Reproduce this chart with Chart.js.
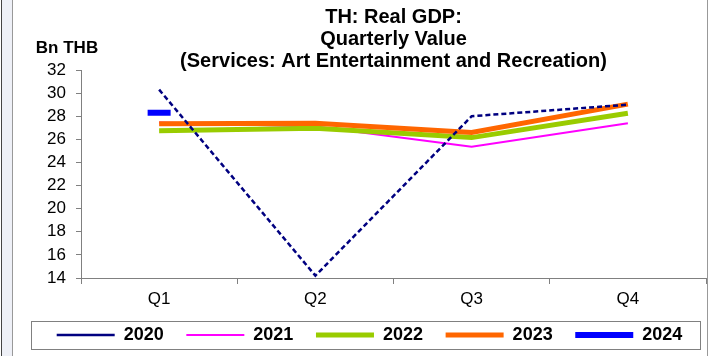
<!DOCTYPE html>
<html>
<head>
<meta charset="utf-8">
<script src="https://cdn.jsdelivr.net/npm/chart.js@4"></script>
<style>
  html, body { margin: 0; padding: 0; background: #fff; }
  #wrap { position: relative; width: 712px; height: 356px; overflow: hidden; }
  #edge1 { position: absolute; left: 1px; top: 0; width: 1px; height: 356px; background: #444; }
  #strip { position: absolute; left: 2px; top: 0; width: 10px; height: 356px; background: #eef0f7; }
  #edge2 { position: absolute; left: 12px; top: 0; width: 1px; height: 356px; background: #999; }
  #edge3 { position: absolute; left: 707px; top: 0; width: 1px; height: 356px; background: #999; }
  canvas { position: absolute; left: 0; top: 0; }
</style>
</head>
<body>
<div id="wrap">
  <div id="edge1"></div><div id="strip"></div><div id="edge2"></div><div id="edge3"></div>
  <canvas id="gdp_servicios" width="712" height="356"></canvas>
</div>
<script>
/**********************************************
 *
 * TH Real GDP - Art Entertainment and Recreation
 *
 * ****************************************/

    var trimestres = ['Q1', 'Q2', 'Q3', 'Q4'];
    var v2020 = [30.3, 14.2, 28.0, 29.0];
    var v2021 = [27.45, 27.1, 25.35, 27.4];
    var v2022 = [26.75, 26.95, 26.15, 28.25];
    var v2023 = [27.35, 27.4, 26.6, 29.05];
    var v2024 = [28.3, null, null, null];
    var titulo = ['TH: Real GDP:', 'Quarterly Value', '(Services: Art Entertainment and Recreation)'];
    var unidad = 'Bn THB';

    var fuente = "'Liberation Sans', Arial, sans-serif";

    // texto de unidad y recuadro de la leyenda
    var extras = {
        id: 'extras',
        afterDraw: function(chart) {
            var c = chart.ctx;
            c.save();
            c.fillStyle = '#000';
            c.font = 'bold 17px ' + fuente;
            c.textAlign = 'center';
            c.textBaseline = 'middle';
            c.fillText(unidad, 67, 48);

            var cajas = chart.legend.legendHitBoxes;
            if (cajas && cajas.length) {
                var izq = cajas[0].left - 26;
                var ult = cajas[cajas.length - 1];
                var der = ult.left + ult.width + 17;
                var arr = cajas[0].top - 5;
                var aba = cajas[0].top + cajas[0].height + 5;
                c.strokeStyle = '#808080';
                c.lineWidth = 1;
                c.strokeRect(Math.round(izq) + 0.5, Math.round(arr) + 0.5, Math.round(der - izq), Math.round(aba - arr));
            }
            c.restore();
        }
    };

    var ctx = document.getElementById('gdp_servicios').getContext('2d');
    var chart = new Chart(ctx, {
        type: 'line',
        data: {
            labels: trimestres,
            datasets: [{
                label: '2020',
                data: v2020,
                borderColor: '#000080',
                backgroundColor: '#000080',
                borderWidth: 2.5,
                borderDash: [5, 3],
                pointRadius: 0,
                order: 0
            }, {
                label: '2021',
                data: v2021,
                borderColor: '#ff00ff',
                backgroundColor: '#ff00ff',
                borderWidth: 2,
                pointRadius: 0,
                order: 4
            }, {
                label: '2022',
                data: v2022,
                borderColor: '#99cc00',
                backgroundColor: '#99cc00',
                borderWidth: 5,
                pointRadius: 0,
                order: 3
            }, {
                label: '2023',
                data: v2023,
                borderColor: '#ff6600',
                backgroundColor: '#ff6600',
                borderWidth: 5,
                pointRadius: 0,
                order: 2
            }, {
                label: '2024',
                data: v2024,
                borderColor: '#0000ff',
                backgroundColor: '#0000ff',
                borderWidth: 6,
                pointStyle: 'line',
                pointRadius: 11.5,
                pointBorderWidth: 6,
                pointBorderColor: '#0000ff',
                order: 1
            }]
        },
        options: {
            responsive: false,
            animation: false,
            events: [],
            layout: {
                autoPadding: false,
                padding: { left: 33, right: 6, top: 0, bottom: 2 }
            },
            plugins: {
                title: {
                    display: true,
                    text: titulo,
                    fullSize: false,
                    color: '#000',
                    font: { family: fuente, size: 20, weight: 'bold', lineHeight: 1.1 },
                    padding: { top: 6, bottom: -2 }
                },
                legend: {
                    position: 'bottom',
                    labels: {
                        usePointStyle: true,
                        pointStyle: 'line',
                        pointStyleWidth: 58,
                        padding: 22.6,
                        color: '#000',
                        font: { family: fuente, size: 18, weight: 'bold' },
                        sort: function(a, b) { return a.datasetIndex - b.datasetIndex; }
                    }
                },
                tooltip: { enabled: false }
            },
            scales: {
                x: {
                    offset: true,
                    afterFit: function(scale) { scale.height = 25.4; },
                    grid: { offset: true, drawOnChartArea: false, drawTicks: true, tickLength: 6, color: '#808080' },
                    border: { display: true, color: '#808080' },
                    // mirror evita el recorte de las etiquetas; con padding negativo quedan debajo del eje
                    ticks: { mirror: true, color: '#000', padding: -32, font: { family: fuente, size: 17 } }
                },
                y: {
                    min: 14,
                    max: 32,
                    afterFit: function(scale) { scale.width = 48; },
                    grid: { drawOnChartArea: false, drawTicks: true, tickLength: 5, color: '#808080' },
                    border: { display: true, color: '#808080' },
                    ticks: { stepSize: 2, autoSkip: false, color: '#000', padding: 10, font: { family: fuente, size: 17, lineHeight: 1 } }
                }
            }
        },
        plugins: [extras]
    });
</script>
</body>
</html>
